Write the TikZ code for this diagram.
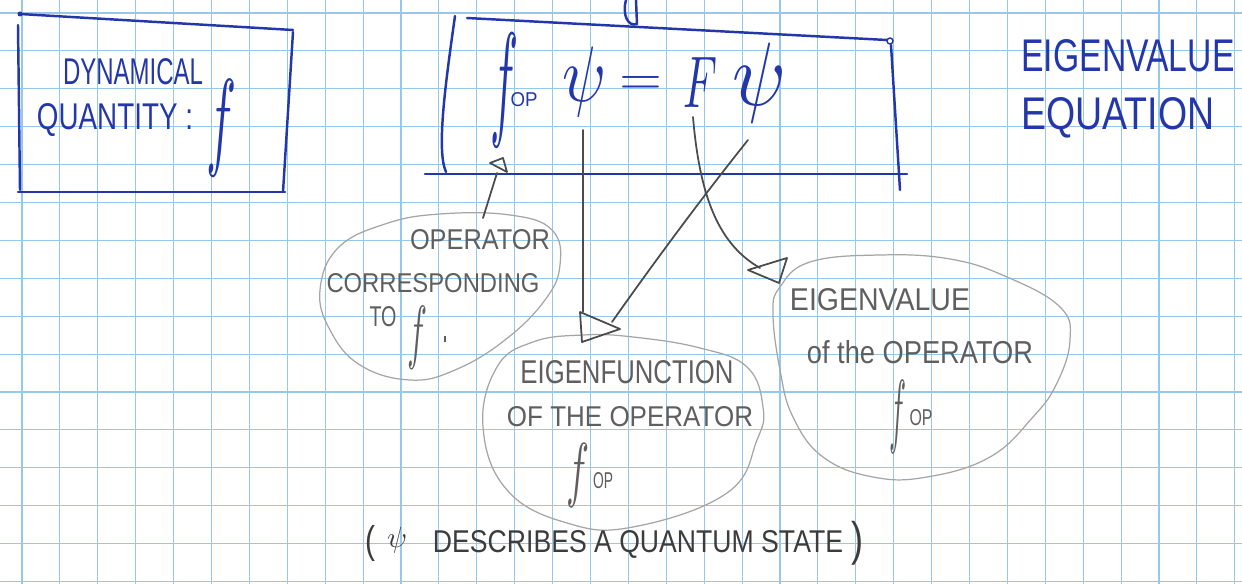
\documentclass[tikz,border=0pt]{standalone}
\usepackage{fontspec}
\setmainfont{Liberation Sans}
\usepackage{graphicx}
\newlength\px \setlength\px{0.02cm}
\definecolor{ink}{RGB}{35,55,170}
\definecolor{gridc}{RGB}{150,200,236}
\definecolor{pencil}{RGB}{75,75,75}
\definecolor{blobc}{RGB}{165,165,165}
\definecolor{ptext}{RGB}{95,95,95}
\definecolor{btext}{RGB}{60,60,60}
\newcommand\hw[3]{\resizebox{#1\px}{#2\px}{#3}}
\newcommand\hws[3]{\resizebox*{#1\px}{#2\px}{#3}}
\tikzset{
  hwnode/.style={inner sep=0pt, outer sep=0pt},
  bluetxt/.style={hwnode, text=ink},
  graytxt/.style={hwnode, text=ptext},
  darktxt/.style={hwnode, text=btext},
  gridline/.style={draw=gridc, line width=0.6pt},
  pen/.style={draw=ink, line width=1.4pt, line cap=round, line join=round},
  arrowline/.style={draw=pencil, line width=1pt, line cap=round, line join=round},
  blob/.style={draw=blobc, line width=0.7pt}
}
\begin{document}
\begin{tikzpicture}[x=0.02cm,y=-0.02cm]
\fill[white] (0,0) rectangle (1242,584);
\useasboundingbox (0,0) rectangle (1242,584);
% grid paper
\foreach \i in {0,...,32} \draw[gridline] ({22+37.9*\i},0) -- ({22+37.9*\i},584);
\foreach \j in {0,...,15} \draw[gridline] (0,{13+37.9*\j}) -- (1242,{13+37.9*\j});

% ---- left box: dynamical quantity
\draw[pen] (20,14) -- (293,30);
\draw[pen] (18,25) -- (20,190);
\draw[pen] (18,192) -- (285,192);
\draw[pen] (293,32) -- (283,192);
\fill[ink] (20,14) circle (2.5);
\node[bluetxt] (dyn) at (133,72) {\hw{140}{26}{DYNAMICAL}};
\node[bluetxt] (qty) at (115,120) {\hw{156}{26}{QUANTITY :}};
\node[bluetxt] (f1) at (222,128) {\hws{30}{97}{$f$}};

% ---- equation box
\draw[pen] (626,0) .. controls (622,15) and (628,27) .. (637,24) -- (636,0);
\draw[pen] (467,18) -- (887,40);
\draw[pen] (455,16) .. controls (446,80) and (436,150) .. (446,172);
\draw[pen] (425,174) -- (907,174);
\draw[pen] (891,45) -- (900,190);
\draw[ink, line width=0.8pt] (890,41) circle (3);
\node[bluetxt] (fopf) at (504,90) {\hws{28}{114}{$f$}};
\node[bluetxt] (fopop) at (524,100) {\hw{27}{14}{OP}};
\node[bluetxt] (psiA) at (585,82) {\hws{44}{70}{$\psi$}};
\node[bluetxt] (eq) at (641,86) {\hws{43}{18}{$=$}};
\node[bluetxt] (F) at (700,82) {\hws{34}{50}{$F$}};
\node[bluetxt] (psiB) at (760,83) {\hws{54}{80}{$\psi$}};

% ---- eigenvalue equation label
\node[bluetxt] (ev) at (1128,56) {\hw{213}{32}{EIGENVALUE}};
\node[bluetxt] (evq) at (1118,118) {\hw{193}{32}{EQUATION}};

% ---- blobs
\draw[blob] plot[smooth cycle, tension=0.7] coordinates {(320,290) (338,248) (385,224) (440,214) (510,215) (552,230) (560,265) (545,300) (505,340) (455,370) (410,380) (360,365) (330,330)};
\draw[blob] plot[smooth cycle, tension=0.7] coordinates {(583,335) (633,337) (700,348) (747,367) (763,407) (757,440) (727,493) (633,527) (567,523) (507,490) (483,427) (497,367) (533,342)};
\draw[blob] plot[smooth cycle, tension=0.7] coordinates {(780,287) (810,262) (880,255) (950,259) (1007,277) (1060,307) (1070,340) (1057,383) (1033,417) (990,457) (927,477) (873,477) (823,457) (793,417) (780,370) (773,313)};

% ---- blob texts
\node[graytxt] (op1) at (480,240) {\hw{140}{20}{OPERATOR}};
\node[graytxt] (op2) at (433,283) {\hw{213}{19}{CORRESPONDING}};
\node[graytxt] (op3) at (383,317) {\hw{27}{20}{TO}};
\node[graytxt] (op4) at (417,338) {\hws{20}{63}{$f$}};
\node[graytxt] (op5) at (445,340) {\hws{6}{6}{.}};

\node[graytxt] (ef1) at (627,372) {\hw{213}{23}{EIGENFUNCTION}};
\node[graytxt] (ef2) at (630,417) {\hw{246}{20}{OF THE OPERATOR}};
\node[graytxt] (ef3) at (578,475) {\hws{23}{64}{$f$}};
\node[graytxt] (ef4) at (603,481) {\hw{20}{16}{OP}};

\node[graytxt] (eva1) at (880,300) {\hw{180}{22}{EIGENVALUE}};
\node[graytxt] (eva2) at (920,352) {\hw{226}{23}{of the OPERATOR}};
\node[graytxt] (eva3) at (898,417) {\hws{17}{73}{$f$}};
\node[graytxt] (eva4) at (921,418) {\hw{23}{16}{OP}};

% ---- bottom note
\node[darktxt] (bl) at (370,543) {\hws{10}{36}{(}};
\node[darktxt] (bpsi) at (397,540) {\hws{20}{26}{$\psi$}};
\node[darktxt] (btxt) at (638,544) {\hw{410}{22}{DESCRIBES A QUANTUM STATE}};
\node[darktxt] (br) at (857,543) {\hws{12}{44}{)}};

% ---- connectors
\coordinate (a1s) at (583,130); \coordinate (a1e) at (583,312);
\draw[arrowline] (a1s) -- (a1e);
\coordinate (a2s) at (748,140); \coordinate (a2e) at (612,322);
\draw[arrowline] (a2s) .. controls (700,200) and (650,268) .. (a2e);
\draw[arrowline] (580,312) -- (582,342) -- (620,329) -- cycle;

\coordinate (a3s) at (693,117); \coordinate (a3e) at (760,268);
\draw[arrowline] (a3s) .. controls (700,200) and (720,245) .. (a3e);
\draw[arrowline] (748,270) -- (787,258) -- (779,283) -- cycle;

\coordinate (a4s) at (483,218); \coordinate (a4e) at (497,173);
\draw[arrowline] (a4s) -- (a4e);
\draw[arrowline] (490,163) -- (503,158) -- (507,172) -- cycle;
\end{tikzpicture}
\end{document}
